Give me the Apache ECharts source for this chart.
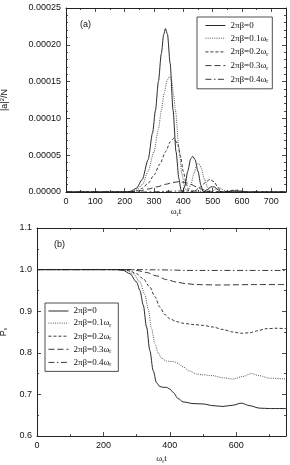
<!DOCTYPE html>
<html><head><meta charset="utf-8">
<script src="https://cdn.jsdelivr.net/npm/echarts@6/dist/echarts.min.js"></script>
<style>html,body{margin:0;padding:0;background:#fff}#c{width:290px;height:465px}</style>
</head><body><div id="c"></div>
<script>
// ---- data ----
const seriesNames = ['2πβ=0', '2πβ=0.1ω{sub|r}', '2πβ=0.2ω{sub|r}', '2πβ=0.3ω{sub|r}', '2πβ=0.4ω{sub|r}'];
const topB0 = [[0,0],[200,0],[220,1e-6],[240,5e-6],[260,1.7e-5],[280,4.4e-5],[295,8e-5],[305,1.11e-4],[315,1.5e-4],[325,1.88e-4],[333,2.14e-4],[339,2.22e-4],[346,2.14e-4],[355,1.75e-4],[365,1.11e-4],[375,5.5e-5],[385,1.8e-5],[392,3e-6],[397,0],[405,8e-6],[415,2.8e-5],[425,4.5e-5],[432,4.85e-5],[440,4.4e-5],[450,2.8e-5],[460,9e-6],[468,0],[480,3e-6],[495,7e-6],[505,7e-6],[518,3e-6],[530,0],[550,5e-7],[570,1.5e-6],[590,1.2e-6],[610,0],[750,0]];
const topB1 = [[0,0],[210,0],[225,1e-6],[240,3e-6],[260,1e-5],[280,2.8e-5],[300,5.5e-5],[315,8.5e-5],[325,1.11e-4],[335,1.35e-4],[345,1.52e-4],[353,1.567e-4],[360,1.52e-4],[367,1.32e-4],[373,1.11e-4],[385,6e-5],[395,2.5e-5],[405,6e-6],[413,0],[425,9e-6],[437,2.6e-5],[445,3.6e-5],[451,3.9e-5],[460,3.4e-5],[472,1.7e-5],[485,4e-6],[495,0],[510,4e-6],[522,6e-6],[535,3e-6],[550,0],[575,1e-6],[590,1e-6],[610,0],[750,0]];
const topB2 = [[0,0],[220,0],[240,1.5e-6],[260,5e-6],[280,1.2e-5],[300,2.3e-5],[320,3.8e-5],[340,5.5e-5],[355,6.8e-5],[368,7.3e-5],[380,6.6e-5],[390,4.9e-5],[400,2.8e-5],[410,1.1e-5],[418,2e-6],[425,0],[440,2e-6],[460,7e-6],[475,1.3e-5],[490,1.7e-5],[505,1.4e-5],[518,6e-6],[530,0],[550,1e-6],[570,2.5e-6],[585,2.5e-6],[600,1e-6],[615,0],[750,0]];
const topB3 = [[0,0],[220,0],[250,1.5e-6],[280,4e-6],[310,7e-6],[340,1.05e-5],[365,1.3e-5],[385,1.4e-5],[405,1.3e-5],[425,1.05e-5],[445,7e-6],[465,3.5e-6],[485,1e-6],[500,0],[750,0]];
const topB4 = [[0,0],[260,0],[300,3e-7],[340,8e-7],[380,1.3e-6],[420,1.4e-6],[460,1e-6],[500,4e-7],[540,0],[750,0]];
const botB0 = [[0,1],[240,1],[260,0.998],[280,0.99],[300,0.97],[310,0.95],[320,0.915],[330,0.862],[340,0.805],[350,0.757],[360,0.728],[370,0.719],[380,0.717],[390,0.717],[400,0.713],[410,0.705],[425,0.69],[440,0.682],[470,0.678],[500,0.677],[530,0.673],[560,0.671],[590,0.674],[615,0.679],[640,0.673],[670,0.667],[700,0.666],[750,0.666]];
const botB1 = [[0,1],[250,1],[270,0.998],[290,0.99],[310,0.97],[325,0.94],[335,0.905],[345,0.858],[355,0.822],[365,0.8],[375,0.787],[390,0.78],[410,0.779],[425,0.775],[440,0.766],[460,0.756],[480,0.749],[500,0.747],[530,0.745],[560,0.74],[590,0.737],[620,0.743],[645,0.75],[670,0.745],[700,0.739],[750,0.737]];
const botB2 = [[0,1],[260,1],[280,0.997],[300,0.99],[320,0.978],[340,0.958],[355,0.935],[370,0.91],[385,0.892],[400,0.882],[420,0.875],[440,0.871],[470,0.868],[500,0.866],[530,0.862],[560,0.856],[590,0.85],[615,0.847],[640,0.848],[665,0.853],[690,0.858],[720,0.859],[750,0.858]];
const botB3 = [[0,1],[280,1],[300,0.998],[330,0.993],[360,0.985],[390,0.976],[420,0.97],[450,0.966],[480,0.964],[550,0.963],[650,0.964],[750,0.964]];
const botB4 = [[0,1],[300,1],[350,0.9995],[400,0.999],[450,0.998],[500,0.998],[750,0.998]];
const topData = [topB0, topB1, topB2, topB3, topB4];
const botData = [botB0, botB1, botB2, botB3, botB4];

// ---- styles ----
const lineTypes = ['solid', [1,1.2], [3,2], [6,3], [6,2.5,1.5,2.5]];
const lineColors = ['#111', '#444', '#222', '#222', '#222'];
const sansFont = 'Liberation Sans';
const serifFont = 'Liberation Serif';
const richSub = {
  sub: {fontSize: 6, fontFamily: serifFont, color: '#111', padding: [5,0,0,0]},
  sup: {fontSize: 6, fontFamily: sansFont, color: '#111', padding: [0,0,5,0]}
};

function makeXAxis(gi, max, interval, named) {
  const common = {
    type: 'value', gridIndex: gi, min: 0, max: max, interval: interval,
    axisLine: {show: true, onZero: false, lineStyle: {color: '#222', width: 1}},
    axisTick: {show: true, inside: true, length: 4, lineStyle: {color: '#222', width: 0.8}},
    minorTick: {show: true, splitNumber: 2, length: 2, lineStyle: {color: '#222', width: 0.8}},
    splitLine: {show: false}
  };
  return [
    Object.assign({}, common, {
      position: 'bottom',
      axisLabel: {show: true, fontSize: 9, fontFamily: sansFont, color: '#111', margin: 5, showMaxLabel: false},
      name: 'ω{sub|r}t', nameLocation: 'middle', nameGap: named,
      nameTextStyle: {fontSize: 9, fontFamily: serifFont, color: '#111', rich: richSub}
    }),
    Object.assign({}, common, {position: 'top', axisLabel: {show: false}})
  ];
}
function makeYAxis(gi, min, max, interval, minorSplit, dec, name, gap) {
  const common = {
    type: 'value', gridIndex: gi, min: min, max: max, interval: interval,
    axisLine: {show: true, onZero: false, lineStyle: {color: '#222', width: 1}},
    axisTick: {show: true, inside: true, length: 4, lineStyle: {color: '#222', width: 0.8}},
    minorTick: {show: true, splitNumber: minorSplit, length: 2, lineStyle: {color: '#222', width: 0.8}},
    splitLine: {show: false}
  };
  return [
    Object.assign({}, common, {
      position: 'left',
      axisLabel: {show: true, fontSize: 9, fontFamily: sansFont, color: '#111', margin: 5,
        formatter: v => v.toFixed(dec)},
      name: name, nameLocation: 'middle', nameGap: gap, nameRotate: 90,
      nameTextStyle: {fontSize: 9, fontFamily: sansFont, color: '#111', rich: richSub}
    }),
    Object.assign({}, common, {position: 'right', axisLabel: {show: false}})
  ];
}

const series = [];
topData.forEach((d, i) => series.push({
  type: 'line', name: seriesNames[i], xAxisIndex: 0, yAxisIndex: 0, data: d,
  symbol: 'none', smooth: 0.25, smoothMonotone: 'x', animation: false,
  itemStyle: {color: lineColors[i]},
  lineStyle: {color: lineColors[i], width: 0.9, type: lineTypes[i]}
}));
botData.forEach((d, i) => series.push({
  type: 'line', name: seriesNames[i], xAxisIndex: 2, yAxisIndex: 2, data: d,
  symbol: 'none', smooth: 0.3, smoothMonotone: 'x', animation: false,
  itemStyle: {color: lineColors[i]},
  lineStyle: {color: lineColors[i], width: 0.9, type: lineTypes[i]}
}));

const legendCommon = {
  orient: 'vertical', itemWidth: 20, itemHeight: 8,
  borderColor: '#222', borderWidth: 0.8, borderRadius: 0, backgroundColor: '#fff',
  selectedMode: false, data: seriesNames,
  itemStyle: {color: 'rgba(0,0,0,0)', borderColor: 'rgba(0,0,0,0)', borderWidth: 0},
  lineStyle: {width: 0.9},
  textStyle: {fontSize: 9, fontFamily: serifFont, color: '#111', rich: richSub}
};

const chart = echarts.init(document.getElementById('c'), null, {renderer: 'canvas'});
chart.setOption({
  animation: false,
  backgroundColor: '#fff',
  grid: [
    {left: 66, top: 8, width: 220, height: 184, containLabel: false, outerBoundsMode: 'none'},
    {left: 37, top: 228, width: 249, height: 208, containLabel: false, outerBoundsMode: 'none'}
  ],
  xAxis: [...makeXAxis(0, 750, 100, 14), ...makeXAxis(1, 750, 200, 17)],
  yAxis: [...makeYAxis(0, 0, 0.00025, 0.00005, 5, 5, '|a|{sup|2}/N', 56),
          ...makeYAxis(1, 0.6, 1.1, 0.1, 2, 1, 'P{sub|s}', 28)],
  legend: [
    Object.assign({}, legendCommon, {left: 197, top: 17, padding: [4, 4, 4, 8], itemGap: 3.7}),
    Object.assign({}, legendCommon, {left: 45, top: 303, padding: [3.5, 7, 3.5, 3], itemGap: 3.1})
  ],
  graphic: [
    {type: 'text', left: 80, top: 20, style: {text: '(a)', fontSize: 9, fontFamily: sansFont, fill: '#111'}},
    {type: 'text', left: 54, top: 240, style: {text: '(b)', fontSize: 9, fontFamily: sansFont, fill: '#111'}}
  ],
  series: series
});
</script></body></html>
